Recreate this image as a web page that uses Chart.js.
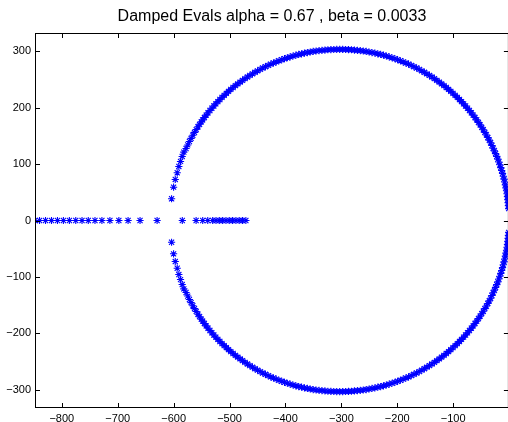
<!DOCTYPE html>
<html>
<head>
<meta charset="utf-8">
<script src="https://cdn.jsdelivr.net/npm/chart.js@4.4.1/dist/chart.umd.min.js"></script>
<style>
  html, body { margin: 0; padding: 0; background: #fff; overflow: hidden; }
  #wrap { width: 514px; height: 422px; }
</style>
</head>
<body>
<div id="wrap"><canvas id="chart" width="514" height="422"></canvas></div>
<script>
const TITLE = 'Damped Evals alpha = 0.67 , beta = 0.0033';
const FONT = '"Liberation Sans", Arial, Helvetica, sans-serif';
const BLUE = '#0000ff';

// upper half of the circle of complex eigenvalues (real part, imaginary part)
const arcRe = [
  -0.7, -1.2, -1.7, -2.3, -2.9, -3.7, -4.6, -5.6, -6.6, -7.8, -9.0, -10.3, -11.7, -13.2, -14.8,
  -16.5, -18.3, -20.1, -22.1, -24.1, -26.2, -28.4, -30.7, -33.0, -35.5, -38.0, -40.6, -43.3,
  -46.1, -48.9, -51.8, -54.8, -57.9, -61.0, -64.2, -67.5, -70.9, -74.3, -77.8, -81.4, -85.1,
  -88.7, -92.5, -96.4, -100.3, -104.2, -108.2, -112.3, -116.4, -120.7, -124.9, -129.2, -133.6,
  -138.0, -142.4, -147.0, -151.5, -156.1, -160.7, -165.4, -170.2, -175.0, -179.8, -184.6,
  -189.5, -194.4, -199.4, -204.3, -209.4, -214.4, -219.5, -224.6, -229.7, -234.8, -240.0,
  -245.2, -250.4, -255.6, -260.8, -266.1, -271.3, -276.6, -281.9, -287.2, -292.4, -297.7, -303.0,
  -308.3, -313.6, -318.8, -324.1, -329.4, -334.7, -339.9, -345.2, -350.4, -355.6, -360.8,
  -366.0, -371.2, -376.3, -381.4, -386.5, -391.6, -396.6, -401.7, -406.6, -411.6, -416.5,
  -421.4, -426.2, -431.0, -435.8, -440.6, -445.3, -449.9, -454.5, -459.0, -463.6, -468.0,
  -472.4, -476.8, -481.1, -485.3, -489.6, -493.7, -497.8, -501.8, -505.7, -509.6, -513.5,
  -517.3, -520.9, -524.6, -528.2, -531.7, -535.1, -538.5, -541.8, -545.0, -548.1,
  -550.6, -553.6, -556.5, -559.6, -562.7, -565.7, -568.8, -571.8, -574.8, -577.8,
  -581.8, -584.7, -587.7, -590.7, -593.6, -597.1, -600.1, -603.7
];
const arcIm = [
  21.1, 26.4, 31.7, 36.9, 42.2, 47.4, 52.6, 57.8, 63.0, 68.2, 73.3, 78.4, 83.5, 88.6, 93.6,
  98.7, 103.6, 108.6, 113.5, 118.4, 123.2, 128.0, 132.8, 137.6, 142.3, 146.9, 151.5, 156.0,
  160.6, 165.0, 169.4, 173.8, 178.1, 182.3, 186.6, 190.7, 194.8, 198.8, 202.7, 206.6, 210.5,
  214.3, 217.9, 221.6, 225.2, 228.7, 232.1, 235.5, 238.8, 242.0, 245.1, 248.2, 251.2,
  254.1, 256.9, 259.7, 262.4, 265.0, 267.5, 270.0, 272.3, 274.6, 276.8, 278.9,
  280.9, 282.9, 284.7, 286.5, 288.2, 289.8, 291.3, 292.7, 294.0, 295.2, 296.4,
  297.4, 298.4, 299.3, 300.1, 300.7, 301.3, 301.8, 302.3, 302.6, 302.8, 303.0, 303.0,
  303.0, 302.8, 302.6, 302.3, 301.8, 301.3, 300.7, 300.1, 299.3, 298.4, 297.4,
  296.4, 295.2, 294.0, 292.7, 291.3, 289.8, 288.2, 286.5, 284.7, 282.9, 280.9,
  278.9, 276.8, 274.6, 272.3, 270.0, 267.5, 265.0, 262.4, 259.7, 256.9, 254.1,
  251.2, 248.2, 245.1, 242.0, 238.8, 235.5, 232.1, 228.7, 225.2, 221.6, 217.9,
  214.3, 210.5, 206.6, 202.7, 198.8, 194.8, 190.7, 186.6, 182.3, 178.1,
  174.7, 170.3, 165.9, 161.0, 156.0, 151.0, 145.5, 139.9, 133.8, 127.5,
  121.0, 113.4, 104.6, 95.7, 84.5, 72.7, 59.0, 38.5
];

// overdamped (purely real) eigenvalues
const realOuter = [-848, -839.9, -829.2, -818.5, -807.8, -797.2, -786.5, -775.1, -763.9,
  -752.7, -740.7, -728.3, -714.0, -698.0, -681.5, -660.1, -629.6];
const realInner = [-584.5, -559.8, -548.0, -539.0, -530.2, -524.2, -518.3, -512.4, -506.4,
  -500.5, -494.6, -488.6, -482.7, -476.8, -470.8];

const X_MIN = -848, X_MAX = -0.3;
const Y_MIN = -332, Y_MAX = 332;
const TICK_STEP = 100;

// eigenvalues come in conjugate pairs
const upper = arcRe.map((re, i) => ({ x: re, y: arcIm[i] }));
const lower = arcRe.map((re, i) => ({ x: re, y: -arcIm[i] }));
const onAxis = realOuter.concat(realInner).map(re => ({ x: re, y: 0 }));

function fmt(v) {
  if (v === 0) return '0';
  return v < 0 ? '\u2212' + Math.abs(v) : String(v);
}

// matlab style box with ticks pointing inwards
const boxTicks = {
  id: 'boxTicks',
  afterDatasetsDraw(chart) {
    const { ctx, chartArea: a, scales: { x, y } } = chart;
    const len = 5;
    ctx.save();
    ctx.strokeStyle = '#000';
    ctx.lineWidth = 1;
    ctx.strokeRect(a.left + 0.5, a.top + 0.5, a.right - a.left - 1, a.bottom - a.top - 1);
    ctx.beginPath();
    x.ticks.forEach(t => {
      const px = Math.round(x.getPixelForValue(t.value)) + 0.5;
      ctx.moveTo(px, a.bottom); ctx.lineTo(px, a.bottom - len);
      ctx.moveTo(px, a.top); ctx.lineTo(px, a.top + len);
    });
    y.ticks.forEach(t => {
      const py = Math.round(y.getPixelForValue(t.value)) + 0.5;
      ctx.moveTo(a.left, py); ctx.lineTo(a.left + len, py);
      ctx.moveTo(a.right, py); ctx.lineTo(a.right - len, py);
    });
    ctx.stroke();
    ctx.restore();
  }
};

const pointStyle = {
  pointStyle: 'star',
  pointRadius: 3.6,
  pointBorderWidth: 1.1,
  borderColor: BLUE,
  backgroundColor: BLUE,
  showLine: false
};

new Chart(document.getElementById('chart'), {
  type: 'scatter',
  data: {
    datasets: [
      Object.assign({ data: upper }, pointStyle),
      Object.assign({ data: lower }, pointStyle),
      Object.assign({ data: onAxis }, pointStyle)
    ]
  },
  options: {
    responsive: false,
    animation: false,
    devicePixelRatio: 1,
    layout: { padding: { top: 0, right: 3, bottom: 0, left: 0 } },
    plugins: {
      legend: { display: false },
      tooltip: { enabled: false },
      title: {
        display: true,
        text: TITLE,
        fullSize: false,
        color: '#000',
        font: { family: FONT, size: 16, weight: 'normal', lineHeight: 1.2 },
        padding: { top: 7, bottom: 6.8 }
      }
    },
    scales: {
      x: {
        type: 'linear',
        min: X_MIN,
        max: X_MAX,
        afterFit: s => { s.height = 14; },
        grid: { display: false, drawTicks: false },
        border: { display: false },
        ticks: {
          stepSize: TICK_STEP, includeBounds: false, padding: 4, color: '#000',
          maxRotation: 0, autoSkip: false,
          font: { family: FONT, size: 11 },
          callback: v => fmt(v)
        }
      },
      y: {
        type: 'linear',
        min: Y_MIN,
        max: Y_MAX,
        afterFit: s => { s.width = 35; },
        grid: { display: false, drawTicks: false },
        border: { display: false },
        ticks: {
          stepSize: TICK_STEP, includeBounds: false, padding: 4, color: '#000',
          autoSkip: false,
          font: { family: FONT, size: 11 },
          callback: v => fmt(v)
        }
      }
    }
  },
  plugins: [boxTicks]
});
</script>
</body>
</html>
